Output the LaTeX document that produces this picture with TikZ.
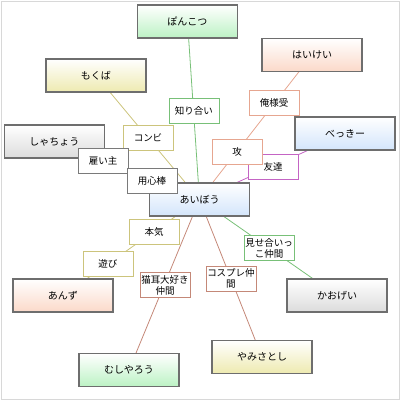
\documentclass[tikz,border=0pt]{standalone}
\usepackage{fontspec}
\setmainfont{Noto Sans CJK JP}
\usepackage{xcolor}
\usetikzlibrary{backgrounds}

\definecolor{framegray}{HTML}{D8D8D8}
\definecolor{boxgray}{HTML}{6E6E6E}
\definecolor{greenbot}{HTML}{BCF2C4}
\definecolor{yellowbot}{HTML}{EEEAB0}
\definecolor{graybot}{HTML}{DCDCDC}
\definecolor{salmonbot}{HTML}{FBD9C9}
\definecolor{bluebot}{HTML}{D3E5FB}
\definecolor{lgreen}{HTML}{78C078}
\definecolor{lolive}{HTML}{CCC47C}
\definecolor{lsalmon}{HTML}{E6A690}
\definecolor{lpurple}{HTML}{C464C4}
\definecolor{lgray}{HTML}{7A7A7A}
\definecolor{lbrown}{HTML}{C48878}

\begin{document}
\begin{tikzpicture}[x=1pt, y=-1pt,
		person/.style={draw=boxgray, line width=1.2pt, minimum width=100pt, minimum height=33pt, inner sep=0pt, font=\fontsize{10}{12}\selectfont},
		rel/.style={draw=#1, fill=white, line width=1pt, minimum width=50pt, minimum height=25pt, inner sep=0pt, align=center, font=\fontsize{9.5}{11}\selectfont},
		link/.style={draw=#1, line width=0.8pt}]
					\useasboundingbox (0,0) rectangle (400,400);

					% people
					\begin{scope}
						\foreach \nm/\px/\py/\col/\txt in {
							pon/187.5/21.5/greenbot/ぽんこつ,
							mokuba/96/75.5/yellowbot/もくば,
							shacho/54.5/141.5/graybot/しゃちょう,
							haikei/312/55/salmonbot/はいけい,
							bekki/345/133.5/bluebot/べっきー,
							aibou/199.5/199.5/bluebot/あいぼう,
							anzu/63/295.5/salmonbot/あんず,
							mushi/129/370/greenbot/むしやろう,
							kaoge/337/295.5/graybot/かおげい,
							yami/262/357/yellowbot/やみさとし}
						{
							\node[person, top color=white, middle color=\col!40!white, bottom color=\col] (\nm) at (\px,\py) {\txt};
						}
					\end{scope}

					% relations
					\begin{scope}
						\node[rel=lgreen] (shiriai) at (194,110.5) {知り合い};
						\node[rel=lolive] (konbi) at (148,137.5) {コンビ};
						\node[rel=lgray] (koyou) at (103,160.5) {雇い主};
						\node[rel=lgray] (youjin) at (152,180.5) {用心棒};
						\node[rel=lsalmon] (oresama) at (274,102.5) {俺様受};
						\node[rel=lpurple] (tomo) at (273,166.5) {友達};
						\node[rel=lsalmon] (seme) at (237,151.5) {攻};
						\node[rel=lolive] (honki) at (154,231.5) {本気};
						\node[rel=lolive] (asobi) at (108,263.5) {遊び};
						\node[rel=lbrown] (nekomimi) at (165,285) {猫耳大好き\\仲間};
						\node[rel=lbrown] (cosplay) at (231,278.5) {コスプレ仲\\間};
						\node[rel=lgreen] (miseai) at (269,248) {見せ合いっ\\こ仲間};
					\end{scope}

					\begin{scope}[on background layer]
						\draw[framegray] (1,1) rectangle (399,399);
						\foreach \a/\b/\col in {pon/aibou/lgreen, mokuba/aibou/lolive,
							shacho/aibou/lgray, haikei/aibou/lsalmon, bekki/aibou/lpurple,
							anzu/aibou/lolive, mushi/aibou/lbrown, yami/aibou/lbrown,
							kaoge/aibou/lgreen}
						{
							\draw[link=\col] (\a.center) -- (\b.center);
						}
					\end{scope}
				\end{tikzpicture}
\end{document}
